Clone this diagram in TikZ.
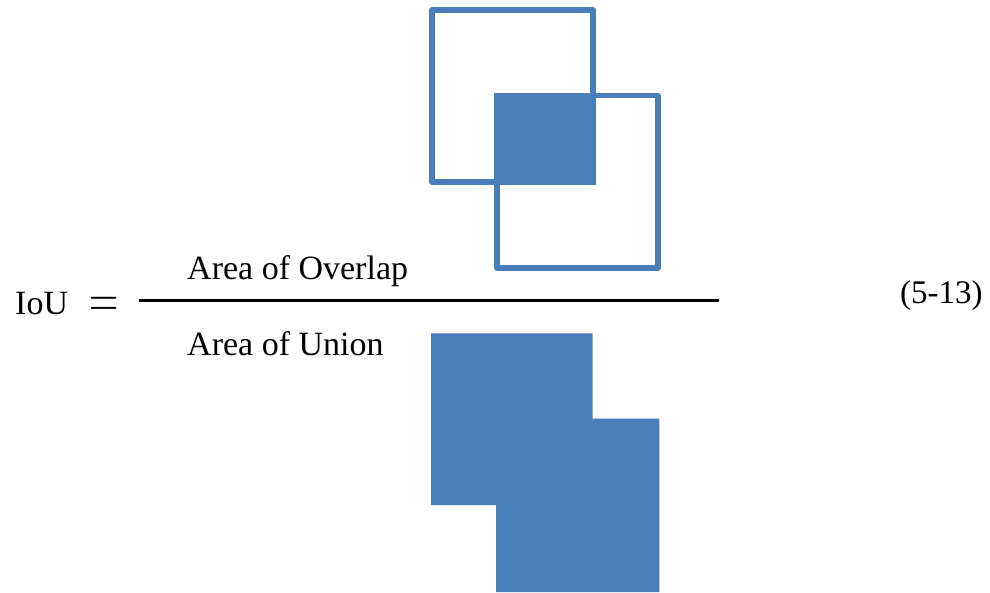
\documentclass[tikz,border=0pt]{standalone}
\usepackage{fontspec}
\setmainfont{Liberation Serif}
\definecolor{boxblue}{HTML}{4A7EBB}
\begin{document}
\begin{tikzpicture}[x=1pt,y=-1pt,
  outlinebox/.style={draw=boxblue,line width=5.3pt,line join=round},
  fillbox/.style={fill=boxblue,draw=none},
  lbl/.style={inner sep=0pt,anchor=base west,font=\fontsize{34}{40}\selectfont}]
\useasboundingbox (0,0) rectangle (990,592);
% overlap (top)
\draw[outlinebox] (432,10) rectangle (593,182);
\draw[outlinebox] (497,95.5) rectangle (658,268);
\fill[boxblue] (494,92.7) rectangle (596,185);
% union (bottom)
\fill[boxblue] (431,333.3) -- (592.7,333.3) -- (592.7,418.7) -- (659.3,418.7)
  -- (659.3,592) -- (496,592) -- (496,505) -- (431,505) -- cycle;
% texts
\node[lbl] (iou) at (15,314) {IoU};
\node[inner sep=0pt,anchor=base,font=\fontsize{24.88}{30}\selectfont,xscale=1.63,yscale=2.28] (eq) at (104,317.7) {$=$};
\node[lbl] (num) at (187,279.3) {Area of Overlap};
\node[lbl] (den) at (187,355) {Area of Union};
\coordinate (fracL) at (139,300.7);
\coordinate (fracR) at (719,300.7);
\draw[line width=2.5pt] (fracL) -- (fracR);
\node[lbl,font=\fontsize{33}{40}\selectfont] (eqno) at (900,303) {(5-13)};
\end{tikzpicture}
\end{document}
